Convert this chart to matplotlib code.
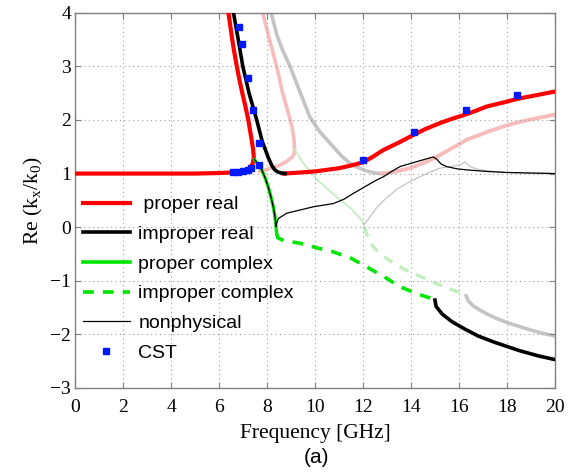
import numpy as np
import matplotlib
matplotlib.use('Agg')
import matplotlib.pyplot as plt
from matplotlib.lines import Line2D

# ---- data (frequency in GHz, Re(kx/k0)) ----

# proper real (red)
red1_f = [0, 2, 4, 5, 6, 6.5, 6.8, 7.0, 7.15, 7.3, 7.40, 7.45, 7.42, 7.35, 7.22, 7.1, 6.97, 6.85, 6.74, 6.64, 6.55, 6.47, 6.39]
red1_k = [1.0, 1.0, 1.0, 1.0, 1.01, 1.02, 1.02, 1.03, 1.05, 1.12, 1.18, 1.30, 1.45, 1.65, 2.0, 2.25, 2.5, 2.75, 3.0, 3.25, 3.5, 3.75, 4.0]
red2_f = [8.7, 9.4, 10.0, 10.5, 11.0, 11.5, 12.0, 12.4, 12.85, 13.5, 14.1, 14.6, 15.2, 15.7, 16.2, 16.7, 17.15, 17.8, 18.4, 19.2, 20.0]
red2_k = [1.0, 1.02, 1.04, 1.07, 1.10, 1.15, 1.21, 1.31, 1.44, 1.58, 1.72, 1.83, 1.94, 2.02, 2.09, 2.17, 2.25, 2.32, 2.39, 2.46, 2.53]

# improper real (black thick)
blk1_f = [6.60, 6.80, 6.99, 7.25, 7.57, 7.80, 8.05, 8.20, 8.32, 8.45, 8.6, 8.75]
blk1_k = [4.0, 3.5, 3.0, 2.5, 2.0, 1.6, 1.3, 1.15, 1.07, 1.03, 1.01, 1.0]
blk2_f = [15.0, 15.05, 15.3, 15.7, 16.2, 16.8, 17.5, 18.5, 19.3, 20.0]
blk2_k = [-1.36, -1.48, -1.62, -1.76, -1.89, -2.03, -2.15, -2.30, -2.40, -2.47]

# proper complex (green)
grn_f = [7.48, 7.6, 7.78, 7.92, 8.05, 8.16, 8.26, 8.33, 8.375, 8.40]
grn_k = [1.26, 1.18, 1.07, 0.92, 0.75, 0.57, 0.38, 0.2, 0.01, -0.12]

# improper complex (green dashed)
grnd_f = [8.40, 8.45, 8.7, 9.375, 10.2, 10.76, 11.5, 12.15, 12.9, 13.54, 14.3, 15.0]
grnd_k = [-0.12, -0.2, -0.25, -0.30, -0.40, -0.46, -0.58, -0.74, -0.93, -1.11, -1.25, -1.35]

# nonphysical (thin black)
nph_f = [7.48, 7.78, 7.92, 8.05, 8.16, 8.26, 8.33, 8.375, 8.40, 8.47, 8.82, 9.375, 9.93, 10.76, 11.2, 11.6, 12.1, 12.57,
         12.85, 13.2, 13.54, 14.3, 14.93, 15.07, 15.25, 15.49, 15.9, 16.3, 17.15, 18.0, 19.0, 20.0]
nph_k = [1.26, 1.07, 0.92, 0.75, 0.57, 0.38, 0.2, 0.01, 0.07, 0.16, 0.26, 0.32, 0.38, 0.44, 0.52, 0.63, 0.76, 0.88,
         0.94, 1.04, 1.13, 1.23, 1.31, 1.27, 1.18, 1.13, 1.09, 1.07, 1.04, 1.02, 1.01, 1.0]

# faded branches
pink1_f = [7.82, 8.10, 8.40, 8.65, 8.93, 9.05, 9.12, 9.15, 9.12, 9.05, 8.8, 8.5, 8.1, 7.7]
pink1_k = [4.0, 3.5, 3.0, 2.5, 2.06, 1.85, 1.65, 1.45, 1.36, 1.31, 1.22, 1.15, 1.09, 1.04]
pink2_f = [12.75, 13.3, 13.96, 14.65, 15.07, 15.7, 16.32, 16.8, 17.2, 17.99, 18.5, 19.0, 20.0]
pink2_k = [1.0, 1.03, 1.10, 1.22, 1.31, 1.47, 1.63, 1.71, 1.78, 1.90, 1.96, 2.01, 2.10]

gry1_f = [8.17, 8.4, 8.65, 8.96, 9.2, 9.5, 9.79, 10.2, 10.76, 11.1, 11.46, 11.8, 12.15, 12.5, 12.8]
gry1_k = [4.0, 3.6, 3.3, 3.0, 2.72, 2.38, 2.05, 1.78, 1.5, 1.33, 1.19, 1.11, 1.05, 1.01, 1.0]
gry2_f = [16.3, 16.4, 16.6, 17.0, 17.5, 18.0, 18.5, 19.0, 19.5, 20.0]
gry2_k = [-1.28, -1.38, -1.47, -1.58, -1.69, -1.78, -1.85, -1.92, -1.98, -2.03]

lgrn_f = [9.15, 9.5, 10.1, 10.8, 11.5, 12.0, 12.05]
lgrn_k = [1.45, 1.2, 0.88, 0.6, 0.35, 0.1, 0.0]
lgrnd_f = [12.05, 12.3, 12.7, 13.1, 13.7, 14.24, 15.2, 16.2]
lgrnd_k = [0.0, -0.3, -0.5, -0.62, -0.78, -0.89, -1.08, -1.25]

gthin_f = [12.05, 12.29, 12.6, 12.99, 13.45, 13.96, 14.6, 15.2, 16.04, 16.25, 16.46, 16.8, 17.15, 18.0, 20.0]
gthin_k = [0.05, 0.19, 0.38, 0.55, 0.72, 0.85, 0.99, 1.10, 1.16, 1.22, 1.13, 1.08, 1.05, 1.02, 1.0]

# CST points
cst_f = [6.6, 6.8, 7.0, 7.2, 7.35, 7.68, 7.68, 7.40, 7.19, 6.97, 6.83, 11.99, 14.12, 16.29, 18.43]
cst_k = [1.03, 1.03, 1.04, 1.07, 1.10, 1.16, 1.57, 2.18, 2.79, 3.42, 3.74, 1.25, 1.77, 2.18, 2.46]

RED = '#ff0000'
GREEN = '#00e600'
PINK = '#f7bcbc'
GRAY = '#c4c4c4'
LGREEN = '#bfefbf'

plt.rcParams['font.family'] = ['Liberation Serif', 'DejaVu Serif']

fig = plt.figure(figsize=(5.78, 4.72), dpi=100)
ax = fig.add_axes([0.130, 0.178, 0.830, 0.795])

# faded branches in the back
ax.plot(gry1_f, gry1_k, color=GRAY, lw=2.6, zorder=1)
ax.plot(gry2_f, gry2_k, color=GRAY, lw=2.6, zorder=1)
ax.plot(pink1_f, pink1_k, color=PINK, lw=2.6, zorder=1)
ax.plot(pink2_f, pink2_k, color=PINK, lw=2.8, zorder=1)
ax.plot(lgrn_f, lgrn_k, color=LGREEN, lw=1.2, zorder=1)
ax.plot(lgrnd_f, lgrnd_k, color=LGREEN, lw=2.4, ls=(0, (3, 2.5)), zorder=1)
ax.plot(gthin_f, gthin_k, color=GRAY, lw=0.9, zorder=1)

# main branches
ax.plot(red1_f, red1_k, color=RED, lw=3.0, zorder=3)
ax.plot(red2_f, red2_k, color=RED, lw=3.0, zorder=3)
ax.plot(blk1_f, blk1_k, color='black', lw=2.6, zorder=3)
ax.plot(blk2_f, blk2_k, color='black', lw=2.6, zorder=3)
ax.plot(grn_f, grn_k, color=GREEN, lw=2.4, zorder=3)
ax.plot(grnd_f, grnd_k, color=GREEN, lw=2.6, ls=(0, (3, 2.5)), zorder=3)
ax.plot(nph_f, nph_k, color='black', lw=0.9, zorder=4)
ax.plot(cst_f, cst_k, ls='none', marker='s', ms=4.5, color='#0018ff', mec='#0018ff', zorder=5)

ax.set_xlim(0, 20)
ax.set_ylim(-3, 4)
ax.set_xticks(np.arange(0, 21, 2))
ax.set_yticks(np.arange(-3, 5, 1))
ax.grid(True, ls=(0, (1, 3)), color='#a0a0a0', lw=0.8)
ax.tick_params(direction='in', top=True, right=True, labelsize=14, color='#808080', length=4)
ax.tick_params(axis='x', pad=8)
ax.tick_params(axis='y', pad=3)
for sp in ax.spines.values():
    sp.set_color('#808080')
    sp.set_linewidth(1.0)

ax.set_xlabel('Frequency [GHz]', fontsize=15.5, labelpad=6)
ax.set_ylabel(r'Re (k$_\mathregular{x}$/k$_\mathregular{0}$)', fontsize=15.5, labelpad=4)
fig.text(0.548, 0.030, '(a)', ha='center', va='center', fontsize=15, family=['Liberation Sans'])

handles = [
    Line2D([], [], color=RED, lw=3.0),
    Line2D([], [], color='black', lw=2.6),
    Line2D([], [], color=GREEN, lw=2.6),
    Line2D([], [], color=GREEN, lw=2.6, ls=(0, (3, 2.5))),
    Line2D([], [], color='black', lw=0.9),
    Line2D([], [], ls='none', marker='s', ms=4.5, color='#0018ff'),
]
labels = [' proper real', 'improper real', 'proper complex', 'improper complex', 'nonphysical', 'CST']
leg = ax.legend(handles, labels, loc='upper left', bbox_to_anchor=(0.0, 0.533), frameon=False,
                prop={'family': 'Liberation Sans', 'size': 14}, handlelength=2.4,
                handletextpad=0.45, labelspacing=0.62, borderaxespad=0.0, numpoints=1)

plt.savefig('out.png', dpi=100)
plt.close()
